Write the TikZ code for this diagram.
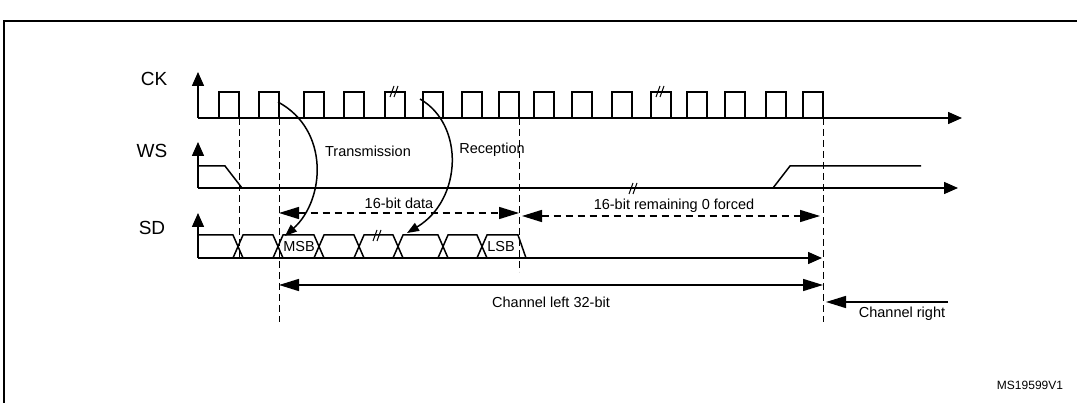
\documentclass[tikz,border=0pt]{standalone}
\usepackage{fontspec}
\setmainfont{Liberation Sans}
\usetikzlibrary{arrows.meta}
\tikzset{
	sig/.style={line width=1.5pt},
	axis/.style={line width=1.5pt, -{Triangle[length=14pt,width=12pt]}},
	guide/.style={dash pattern=on 7pt off 4pt, line width=0.9pt},
	span/.style={line width=1.5pt, {Triangle[length=20pt,width=12pt]}-{Triangle[length=20pt,width=12pt]}},
	lbl/.style={font=\fontsize{14.5}{16}\selectfont, inner sep=1pt},
	big/.style={font=\fontsize{19}{21}\selectfont, inner sep=0pt},
}
\begin{document}
	\begin{tikzpicture}[x=1pt, y=-1pt]
		\useasboundingbox (0,0) rectangle (1077,403);
		\draw[line width=1.6pt] (4,21) rectangle (1090,410);
		% signal names
		\node[big] (ck) at (154,79) {CK};
		\node[big] (ws) at (152,151) {WS};
		\node[big] (sd) at (152,228) {SD};
		% axes
		\draw[axis] (198,118) -- (198,72);
		\draw[axis] (198,188) -- (198,142);
		\draw[axis] (198,258) -- (198,213);
		\draw[axis] (198,118) -- (962,118);
		\draw[axis] (198,188) -- (958,188);
		\draw[axis] (198,258) -- (822,258);
		% clock
		\foreach \x in {219,259,304,344,385,423,462,499,534,572,612,651,687,725,766,803}
			\draw[sig] (\x,118) -- (\x,92) -- (\x+20,92) -- (\x+20,118);
		\draw[line width=1pt] (390,97) -- (394,86) (394,97) -- (398,86);
		\draw[line width=1pt] (656,97) -- (660,86) (660,97) -- (664,86);
		% word select
		\draw[sig] (198,166) -- (225,166) -- (242,188);
		\draw[sig] (773,188) -- (790,166) -- (921,166);
		\draw[line width=1pt] (629,194) -- (633,183) (633,194) -- (637,183);
		% serial data
		\draw[sig] (198,235) -- (233,235) -- (243,258);
		\foreach \a/\b in {238/278,278/319,319/359,359/398,398/443,443/482}
			\draw[sig] (\a-5,258) -- (\a+5,235) -- (\b-5,235) -- (\b+5,258);
		\draw[sig] (477,258) -- (487,235) -- (518,235) -- (526,258);
		\draw[line width=1pt] (373,241) -- (377,230) (377,241) -- (381,230);
		\node[lbl] (msb) at (299,247) {MSB};
		\node[lbl] (lsb) at (501,247) {LSB};
		% guides
		\coordinate (g1) at (239,118);
		\coordinate (g2) at (279,118);
		\coordinate (g3) at (519,118);
		\coordinate (g4) at (823,118);
		\draw[guide] (g1) -- (239,258);
		\draw[guide] (g2) -- (279,322);
		\draw[guide] (g3) -- (519,272);
		\draw[guide] (g4) -- (823,322);
		% spans
		\coordinate (d1) at (279,213);
		\coordinate (d2) at (519,213);
		\draw[span, dash pattern=on 7pt off 5pt] (d1) -- (d2) node[midway, above=3pt, lbl] {16-bit data};
		\coordinate (r1) at (522,216);
		\coordinate (r2) at (820,216);
		\draw[span, dash pattern=on 7pt off 5pt] (r1) -- (r2) node[pos=0.51, above=2pt, lbl] {16-bit remaining 0 forced};
		\coordinate (c1) at (279,285);
		\coordinate (c2) at (823,285);
		\draw[span] (c1) -- (c2) node[midway, below=10pt, lbl] {Channel left 32-bit};
		\coordinate (cr) at (948,302);
		\draw[line width=1.5pt, -{Triangle[length=20pt,width=12pt]}] (cr) -- (826,302);
		\node[lbl] (crl) at (902,314) {Channel right};
		% transmission / reception
		\draw[line width=1.5pt, -{Triangle[length=12pt,width=9pt]}] (278,102) .. controls (330,130) and (325,200) .. (285,236);
		\draw[line width=1.5pt, -{Triangle[length=12pt,width=9pt]}] (420,99) .. controls (465,125) and (462,200) .. (407,233);
		\node[lbl] (tx) at (368,151) {Transmission};
		\node[lbl] (rx) at (492,150) {Reception};
		\node[font=\fontsize{12}{14}\selectfont] (id) at (1030,385) {MS19599V1};
	\end{tikzpicture}
\end{document}
